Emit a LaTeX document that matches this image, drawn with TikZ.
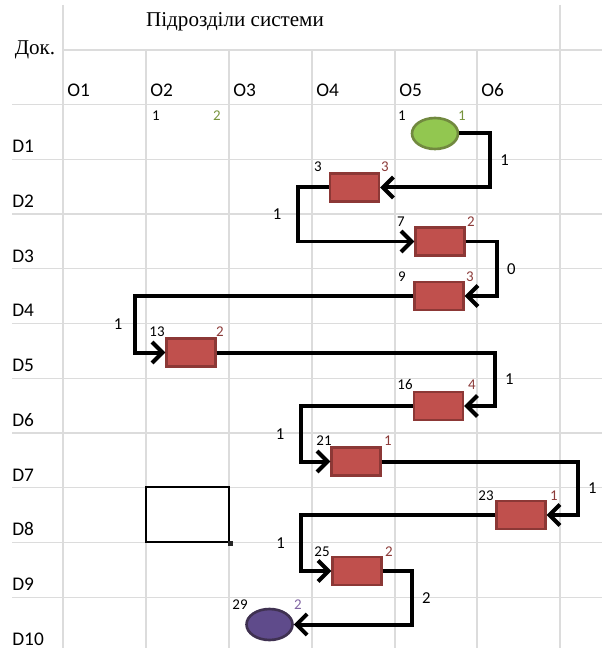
\documentclass[tikz,border=0pt]{standalone}
\usepackage{fontspec}
\setmainfont{Carlito}
\newfontfamily\hdfont{Liberation Serif}
\usetikzlibrary{arrows.meta,shapes.geometric}
\definecolor{gridgray}{HTML}{DCDCDC}
\definecolor{boxfill}{HTML}{C0504D}
\definecolor{boxedge}{HTML}{8C3836}
\definecolor{startfill}{HTML}{92C750}
\definecolor{startedge}{HTML}{71893F}
\definecolor{endfill}{HTML}{5F4B8B}
\definecolor{endedge}{HTML}{3F3151}
\definecolor{numred}{HTML}{8B3A38}
\definecolor{numgreen}{HTML}{77933C}
\definecolor{numpurple}{HTML}{8064A2}
\begin{document}
\begin{tikzpicture}[x=0.02cm, y=-0.02cm,
    grid/.style={draw=gridgray, line width=0.7pt},
    proc/.style={rectangle, draw=boxedge, fill=boxfill, line width=1.3pt, minimum width=0.98cm, minimum height=0.56cm},
    term/.style={ellipse, line width=1.5pt, minimum width=0.92cm, minimum height=0.62cm},
    flow/.style={line width=0.8mm, -{Straight Barb[length=2.1mm, width=4.2mm]}},
    num/.style={font=\fontsize{8.5}{10}\selectfont, inner sep=0pt},
    lab/.style={font=\fontsize{9.5}{11}\selectfont},
    hdr/.style={font=\fontsize{11}{13}\selectfont, inner sep=0pt, anchor=base west}]
    \useasboundingbox (0,0) rectangle (602,648);
    % grid
    \draw[grid] (63,50) -- (602,50);
    \foreach \k in {0,...,9}
        \draw[grid] (12,104.5+54.75*\k) -- (602,104.5+54.75*\k);
    \draw[grid] (63,5) -- (63,648);
    \draw[grid] (560,5) -- (560,648);
    \foreach \x in {146,229,312,395,477}
        \draw[grid] (\x,50) -- (\x,648);
    % headers
    \node[font=\hdfont\fontsize{12}{14}\selectfont] (title) at (235,22) {Підрозділи системи};
    \node[font=\hdfont\fontsize{12}{14}\selectfont] (doc) at (35,50) {Док.};
    \foreach \i/\x in {1/67,2/150,3/233,4/316,5/399,6/481}
        \node[hdr] (o\i) at (\x,97) {O\i};
    \foreach \i in {1,...,10}
        \node[hdr] (d\i) at (12,152.5+54.75*\i-54.75) {D\i};
    % shapes
    \node[term, draw=startedge, fill=startfill] (st) at (435,133.5) {};
    \node[proc] (b2) at (354.5,187.5) {};
    \node[proc] (b3) at (440,241.5) {};
    \node[proc] (b4) at (439,296) {};
    \node[proc] (b5) at (191,352.5) {};
    \node[proc] (b6) at (438.5,406) {};
    \node[proc] (b7) at (356,461.5) {};
    \node[proc] (b8) at (521,515) {};
    \node[proc] (b9) at (357,571) {};
    \node[term, draw=endedge, fill=endfill] (en) at (269.5,624.5) {};
    \node[draw, line width=1.6pt, minimum width=1.66cm, minimum height=1.1cm] (blank) at (187.5,514.5) {};
    \node[fill=black!85, inner sep=0pt, minimum size=3pt] (corner) at (blank.south east) {};
    % numbers
    \node[num] at (156,116) {1};
    \node[num, text=numgreen] at (217,116) {2};
    \node[num] at (402,116) {1};
    \node[num, text=numgreen] at (462,116) {1};
    \node[num] at (318,167) {3};
    \node[num, text=numred] at (385,167) {3};
    \node[num] at (401,222) {7};
    \node[num, text=numred] at (471,222) {2};
    \node[num] at (402,277) {9};
    \node[num, text=numred] at (470,277) {3};
    \node[num] at (157,332) {13};
    \node[num, text=numred] at (220,332) {2};
    \node[num] at (405,385) {16};
    \node[num, text=numred] at (472,385) {4};
    \node[num] at (324,441) {21};
    \node[num, text=numred] at (388,441) {1};
    \node[num] at (486,496) {23};
    \node[num, text=numred] at (554,496) {1};
    \node[num] at (322,552) {25};
    \node[num, text=numred] at (389,552) {2};
    \node[num] at (240,605) {29};
    \node[num, text=numpurple] at (298,605) {2};
    % connectors
    \draw[flow] (st.east) -- ++(30.5,0) |- node[lab, pos=0.25, right=1.5pt] {1} (b2.east);
    \draw[flow] (b2.west) -- ++(-31,0) |- node[lab, pos=0.25, left=5pt] {1} (b3.west);
    \draw[flow] (b3.east) -- ++(31,0) |- node[lab, pos=0.25, right=1.5pt] {0} (b4.east);
    \draw[flow] (b4.west) -- ++(-278,0) |- node[lab, pos=0.25, left=3pt] {1} (b5.west);
    \draw[flow] (b5.east) -- ++(278,0) |- node[lab, pos=0.25, right=1.5pt] {1} (b6.east);
    \draw[flow] (b6.west) -- ++(-112,0) |- node[lab, pos=0.25, left=5pt] {1} (b7.west);
    \draw[flow] (b7.east) -- ++(196,0) |- node[lab, pos=0.25, right=1.5pt] {1} (b8.east);
    \draw[flow] (b8.west) -- ++(-194,0) |- node[lab, pos=0.25, left=5pt] {1} (b9.west);
    \draw[flow] (b9.east) -- ++(29,0) |- node[lab, pos=0.25, right=1.5pt] {2} (en.east);
\end{tikzpicture}
\end{document}
